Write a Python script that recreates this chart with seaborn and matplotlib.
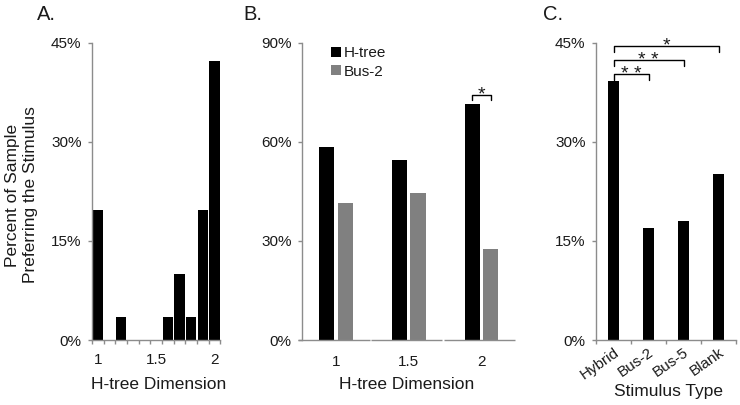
import numpy as np
import pandas as pd
import matplotlib
matplotlib.use("Agg")
import matplotlib.pyplot as plt
import seaborn as sns

# ---------------- data ----------------
# Panel A: distribution of preferred H-tree dimension
a_dims = ["1.0", "1.1", "1.2", "1.3", "1.4", "1.5", "1.6", "1.7", "1.8", "1.9", "2.0"]
a_pct = [19.7, 0.0, 3.5, 0.0, 0.0, 0.0, 3.5, 10.0, 3.5, 19.7, 42.3]
a_label_dims = ["1.0", "1.5", "2.0"]
a_label_text = ["1", "1.5", "2"]
a_yticks = [0, 15, 30, 45]

# Panel B: H-tree vs Bus-2 by dimension
b_dims = ["1", "1.5", "2"]
b_series = ["H-tree", "Bus-2"]
b_htree = [58.6, 54.4, 71.6]
b_bus2 = [41.4, 44.4, 27.5]
b_yticks = [0, 30, 60, 90]
b_sig_dim = "2"
b_sig_text = "*"

# Panel C: stimulus type
c_types = ["Hybrid", "Bus-2", "Bus-5", "Blank"]
c_pct = [39.2, 17.0, 18.0, 25.1]
c_yticks = [0, 15, 30, 45]
c_sig_pairs = [("Hybrid", "Bus-2"), ("Hybrid", "Bus-5"), ("Hybrid", "Blank")]
c_sig_text = ["**", "**", "*"]

# ---------------- style ----------------
sns.set_theme(style="white")
plt.rcParams["font.family"] = ["Liberation Sans", "DejaVu Sans"]
GREY = "#8c8c8c"
TXT = "#1a1a1a"
W, H = 740, 405
TICK_FS = 11
LABEL_FS = 12.5

fig = plt.figure(figsize=(W / 100, H / 100), dpi=100)


def px_axes(left, right, top, bottom):
    return fig.add_axes([left / W, 1 - bottom / H, (right - left) / W, (bottom - top) / H])


def style_axes(ax, yticks):
    for s in ["top", "right"]:
        ax.spines[s].set_visible(False)
    for s in ["left", "bottom"]:
        ax.spines[s].set_color(GREY)
        ax.spines[s].set_linewidth(1.0)
    ax.set_ylim(0, yticks[-1])
    ax.set_yticks(yticks)
    ax.set_yticklabels([f"{v}%" for v in yticks])
    ax.tick_params(axis="y", which="major", length=3, width=1.0, color=GREY,
                   direction="out", pad=4.5, labelsize=TICK_FS, labelcolor=TXT, left=True)
    ax.set_ylabel("")


# ---------------- Panel A ----------------
axA = px_axes(92, 220.3, 43, 340)
sns.barplot(x=a_dims, y=a_pct, order=a_dims, color="black", saturation=1,
            width=0.9, linewidth=0, ax=axA)
style_axes(axA, a_yticks)
axA.set_xlim(-0.5, len(a_dims) - 0.5)
axA.set_xticks(np.arange(-0.5, len(a_dims), 1.0))
axA.set_xticklabels([])
axA.set_xticks([a_dims.index(d) for d in a_label_dims], minor=True)
axA.set_xticklabels(a_label_text, minor=True)
axA.tick_params(axis="x", which="major", length=3, width=1.0, color=GREY,
                direction="out", bottom=True)
axA.tick_params(axis="x", which="minor", length=0, pad=9, labelsize=TICK_FS,
                labelcolor=TXT, bottom=True)
axA.set_xlabel("H-tree Dimension", fontsize=LABEL_FS, color=TXT, va="center")
axA.xaxis.set_label_coords(0.52, -0.15)

# ---------------- Panel B ----------------
axB = px_axes(302, 512, 43, 340)
dfB = pd.DataFrame({
    "dim": b_dims * 2,
    "series": [b_series[0]] * len(b_dims) + [b_series[1]] * len(b_dims),
    "pct": b_htree + b_bus2,
})
sns.barplot(data=dfB, x="dim", y="pct", hue="series", order=b_dims, hue_order=b_series,
            palette=["black", "#808080"], saturation=1, width=0.51, gap=0.18,
            linewidth=0, ax=axB)
style_axes(axB, b_yticks)
axB.set_xlim(-0.47, len(b_dims) - 0.58)
axB.spines["bottom"].set_visible(False)
for i in range(len(b_dims)):
    axB.plot([i - 0.52, i + 0.46], [0, 0], color=GREY, lw=1.0, clip_on=False,
             solid_capstyle="butt")
axB.tick_params(axis="x", length=0, pad=11, labelsize=TICK_FS, labelcolor=TXT)
axB.set_xlabel("H-tree Dimension", fontsize=LABEL_FS, color=TXT, va="center")
axB.xaxis.set_label_coords(0.50, -0.15)
leg = axB.legend(loc="upper left", bbox_to_anchor=(0.14, 0.99), frameon=False,
                 fontsize=TICK_FS, handlelength=0.65, handleheight=0.65,
                 handletextpad=0.15, labelspacing=0.3, borderaxespad=0, borderpad=0)
for t in leg.get_texts():
    t.set_color(TXT)

# significance bracket in B
ib = b_dims.index(b_sig_dim)
xl, xr = ib - 0.128, ib + 0.128
yb, leg_len = 74.2, 1.6
axB.plot([xl, xl, xr, xr], [yb - leg_len, yb, yb, yb - leg_len], color="black", lw=1.0,
         clip_on=False)
axB.text(ib, yb - 1.4, b_sig_text, ha="center", va="baseline", fontsize=14, color=TXT)

# ---------------- Panel C ----------------
axC = px_axes(596, 736, 43, 340)
sns.barplot(x=c_types, y=c_pct, order=c_types, color="black", saturation=1,
            width=0.31, linewidth=0, ax=axC)
style_axes(axC, c_yticks)
axC.set_xlim(-0.5, len(c_types) - 0.5)
axC.set_xticks(np.arange(-0.5, len(c_types), 1.0))
axC.set_xticklabels([])
axC.set_xticks(range(len(c_types)), minor=True)
axC.set_xticklabels(c_types, minor=True, rotation=35, ha="right", rotation_mode="anchor")
axC.tick_params(axis="x", which="major", length=3, width=1.0, color=GREY,
                direction="out", bottom=True)
axC.tick_params(axis="x", which="minor", length=0, pad=4, labelsize=TICK_FS,
                labelcolor=TXT, bottom=True)
axC.set_xlabel("Stimulus Type", fontsize=LABEL_FS, color=TXT, va="center")
axC.xaxis.set_label_coords(0.52, -0.172)

c_heights = [40.3, 42.4, 44.5]
for (a, b), txt, yb in zip(c_sig_pairs, c_sig_text, c_heights):
    xa, xb = c_types.index(a), c_types.index(b)
    axC.plot([xa, xa, xb, xb], [yb - 0.9, yb, yb, yb - 0.9], color="black", lw=1.0,
             clip_on=False)
    axC.text((xa + xb) / 2, yb - 0.7, " ".join(txt), ha="center", va="baseline",
             fontsize=14, color=TXT)

# ---------------- titles and shared y label ----------------
fig.text(37 / W, 1 - 14 / H, "A.", fontsize=14.5, color=TXT, ha="left", va="center")
fig.text(243 / W, 1 - 14 / H, "B.", fontsize=14.5, color=TXT, ha="left", va="center")
fig.text(543 / W, 1 - 14 / H, "C.", fontsize=14.5, color=TXT, ha="left", va="center")
fig.text(22 / W, 1 - 195 / H, "Percent of Sample\nPreferring the Stimulus", rotation=90,
         fontsize=LABEL_FS, color=TXT, ha="center", va="center", multialignment="center",
         linespacing=1.25)

fig.savefig("out.png", dpi=100)
